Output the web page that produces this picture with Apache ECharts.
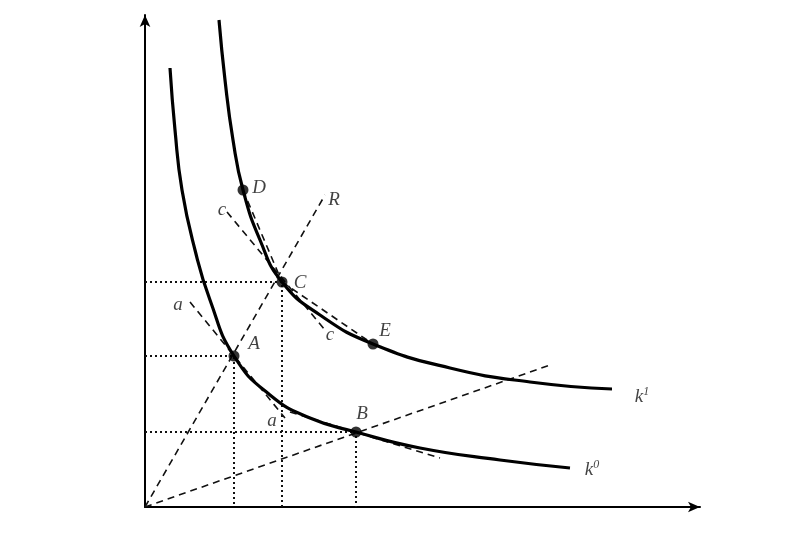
<!DOCTYPE html><html><head><meta charset="utf-8"><script src="https://cdn.jsdelivr.net/npm/echarts@6/dist/echarts.min.js"></script>
<style>html,body{margin:0;background:#fff}#c{width:800px;height:539px}</style></head><body><div id="c"></div><script>
const k0 = [[25,439],[30,377],[37,317],[50,257],[65,207],[89,151],[125,112],[165,89],[211,75],[275,59],[355,47],[425,39]];
const k1 = [[74,487],[80,427],[88,367],[98,317],[115,267],[137,225],[175,192],[228,163],[305,139],[385,125],[467,118]];
const points = [[98,317],[137,225],[228,163],[89,151],[211,75]];
const dotted = [[[0,225],[137,225],[137,0]],[[0,151],[89,151],[89,0]],[[0,75],[211,75],[211,0]]];
const dashed = [[[0,0],[180,312]],[[0,0],[405,142]],[[45,205],[140,89]],[[145,95],[295,49]],[[82,295],[180,177]],[[98,317],[137,225]],[[137,225],[228,163]]];
const labels = [
 [-14,493,'{i|y}'],[538,-5,'{i|x}'],[-12,-18,'{i|O}'],
 [89,-15,'{i|x}{s|A}'],[133,-15,'{i|x}{s|C}'],[211,-15,'{i|x}{s|B}'],
 [-20,225,'{i|y}{s|C}'],[-20,151,'{i|y}{s|A}'],[-20,75,'{i|y}{s|B}'],
 [497,110,'{i|k}{s|1}'],[447,37,'{i|k}{s|0}'],
 [189,307,'{i|R}'],[114,319,'{i|D}'],[155,224,'{i|C}'],[240,176,'{i|E}'],[109,163,'{i|A}'],[217,93,'{i|B}'],
 [77,297,'{i|c}'],[185,172,'{i|c}'],[33,202,'{i|a}'],[127,86,'{i|a}']
];
const rich={i:{fontFamily:'Liberation Serif',fontStyle:'italic',fontSize:19,color:'#111'},s:{fontFamily:'Liberation Serif',fontStyle:'italic',fontSize:12,color:'#111',verticalAlign:'top',padding:[0,0,10,0]}};
const series=[];
dotted.forEach(d=>series.push({type:'line',data:d,symbol:'none',lineStyle:{color:'#111',width:2,type:[2,3]},z:1}));
dashed.forEach(d=>series.push({type:'line',data:d,symbol:'none',lineStyle:{color:'#111',width:1.6,type:[7,5]},z:1}));
series.push({type:'line',data:k0,smooth:0.5,symbol:'none',lineStyle:{color:'#000',width:3.2},z:3});
series.push({type:'line',data:k1,smooth:0.5,symbol:'none',lineStyle:{color:'#000',width:3.2},z:3});
series.push({type:'scatter',data:points,symbolSize:11,itemStyle:{color:'#000'},z:5});
series.push({type:'scatter',data:labels.map(l=>({value:[l[0],l[1]],label:{formatter:l[2]}})),symbolSize:0,label:{show:true,position:'inside',rich:rich},z:6});
const ax={type:'value',min:0,axisTick:{show:false},axisLabel:{show:false},splitLine:{show:false},axisLine:{lineStyle:{color:'#000',width:2},symbol:['none','arrow'],symbolSize:[8,12]}};
echarts.init(document.getElementById('c')).setOption({animation:false,
 grid:{left:145,right:100,top:15,bottom:32},
 xAxis:Object.assign({},ax,{max:555}),yAxis:Object.assign({},ax,{max:492}),series:series});
</script></body></html>
